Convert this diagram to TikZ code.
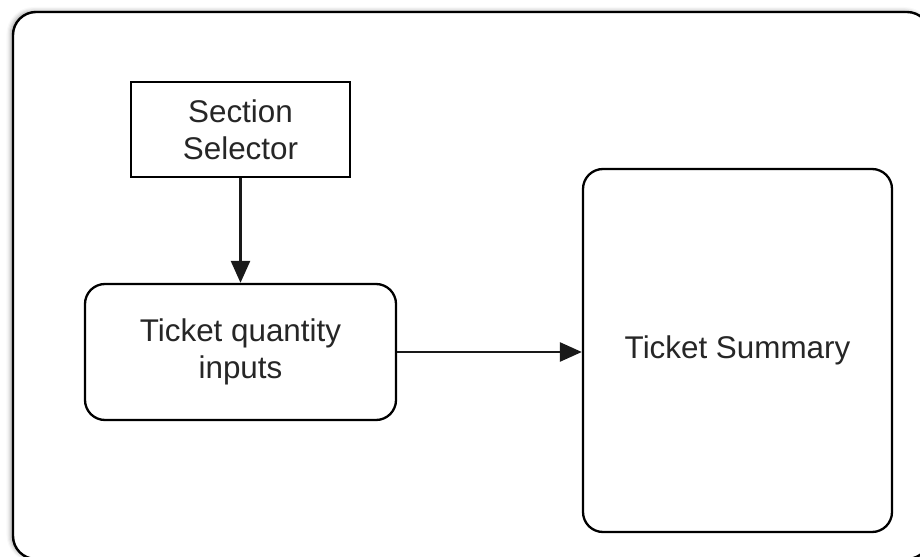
\documentclass[tikz,border=0pt]{standalone}
\usepackage{fontspec}
\setmainfont{Liberation Sans}
\usetikzlibrary{arrows.meta,shadows.blur}
\tikzset{
  boxtext/.style={font=\fontsize{31.5}{37}\selectfont, align=center, text=black!85},
  plainbox/.style={draw=black, line width=2.3bp, fill=white, inner sep=0pt, boxtext},
  roundbox/.style={plainbox, rounded corners=20bp},
  framebox/.style={draw=black, line width=2.4bp, fill=white, rounded corners=23bp, inner sep=0pt,
    blur shadow={shadow xshift=-2.5bp, shadow yshift=1bp, shadow blur radius=4bp, shadow opacity=35}},
  flow/.style={draw=black!90, line width=2.6bp, -{Triangle[length=22bp,width=19bp]}},
}
\begin{document}
\begin{tikzpicture}[x=1bp,y=-1bp]
\useasboundingbox (0,0) rectangle (920,557);
\node[framebox, minimum width=917bp, minimum height=547bp] (frame) at (471.5,285.5) {};
\node[plainbox, minimum width=219bp, minimum height=95bp] (sel) at (240.5,129.5) {Section\\Selector};
\node[roundbox, minimum width=311bp, minimum height=136bp] (qty) at (240.5,352) {Ticket quantity\\inputs};
\node[roundbox, minimum width=309bp, minimum height=363bp] (sum) at (737.5,350.5) {Ticket Summary};
\draw[flow] (sel.south) -- (qty.north);
\draw[flow] (qty.east) -- (sum.west |- qty.east);
\end{tikzpicture}
\end{document}
